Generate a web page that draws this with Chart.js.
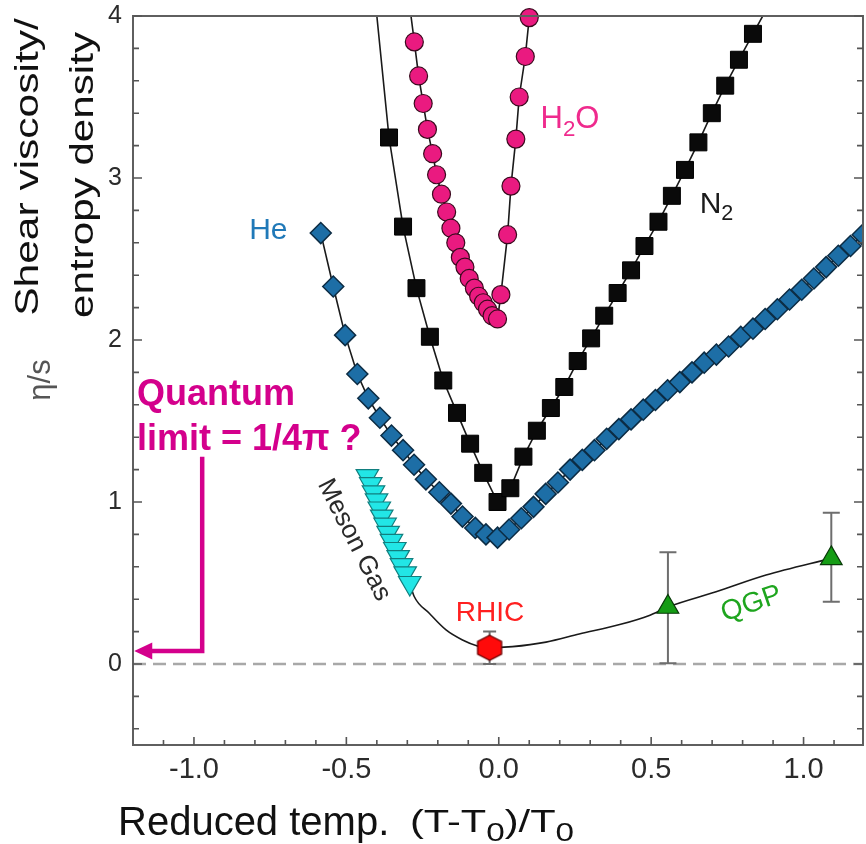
<!DOCTYPE html>
<html>
<head>
<meta charset="utf-8">
<script src="https://cdn.jsdelivr.net/npm/chart.js@4.4.0/dist/chart.umd.min.js"></script>
<style>
html,body{margin:0;padding:0;background:#ffffff;}
#wrap{width:866px;height:844px;position:relative;}
canvas{display:block;}
</style>
</head>
<body>
<div id="wrap"><canvas id="c" width="866" height="844"></canvas></div>
<script>
// ---------------- data ----------------
const h2oX = [-0.277,-0.263,-0.248,-0.234,-0.217,-0.204,-0.188,-0.171,-0.157,-0.141,-0.126,-0.111,-0.097,-0.080,-0.066,-0.051,-0.037,-0.022,-0.004,0.007,0.029,0.040,0.056,0.067,0.087,0.100];
const h2oY = [3.84,3.63,3.46,3.30,3.15,3.02,2.90,2.79,2.69,2.60,2.51,2.45,2.38,2.32,2.27,2.23,2.19,2.15,2.13,2.28,2.65,2.95,3.24,3.50,3.75,3.99];
const h2oLineStart = [-0.288, 4.0];

const n2X = [-0.360,-0.314,-0.270,-0.226,-0.182,-0.137,-0.094,-0.051,-0.004,0.038,0.081,0.125,0.171,0.215,0.259,0.303,0.346,0.390,0.434,0.478,0.524,0.568,0.611,0.655,0.699,0.743,0.788,0.834];
const n2Y = [3.25,2.70,2.32,2.02,1.75,1.55,1.36,1.18,1.00,1.085,1.28,1.44,1.58,1.71,1.87,2.01,2.15,2.29,2.43,2.58,2.73,2.89,3.05,3.22,3.40,3.57,3.73,3.89];
const n2LineStart = [-0.400, 4.0];
const n2LineEnd = [0.866, 4.0];

const heX = [-0.584,-0.543,-0.504,-0.464,-0.428,-0.390,-0.352,-0.314,-0.278,-0.239,-0.195,-0.157,-0.119,-0.077,-0.042,-0.004,
             0.034,0.074,0.114,0.154,0.194,0.234,0.274,0.314,0.354,0.394,0.434,0.474,0.514,0.554,0.594,0.634,0.674,0.714,0.754,0.794,0.834,0.874,0.914,0.954,0.994,1.034,1.074,1.114,1.154,1.194];
const heY = [2.66,2.33,2.03,1.79,1.64,1.52,1.41,1.32,1.23,1.14,1.06,0.99,0.91,0.84,0.80,0.78,
             0.83,0.90,0.97,1.05,1.12,1.20,1.26,1.32,1.39,1.45,1.51,1.57,1.63,1.69,1.74,1.80,1.86,1.91,1.96,2.02,2.07,2.13,2.19,2.25,2.31,2.38,2.45,2.52,2.58,2.65];

const mesonX = [-0.431,-0.420,-0.411,-0.401,-0.392,-0.384,-0.373,-0.363,-0.352,-0.341,-0.330,-0.319,-0.307,-0.292];
const mesonY = [1.16,1.11,1.06,1.01,0.96,0.91,0.86,0.81,0.76,0.71,0.66,0.61,0.56,0.50];

const curveX = [-0.292,-0.277,-0.228,-0.173,-0.119,-0.070,-0.034,0.045,0.155,0.264,0.400,0.494,0.555,0.713,0.877,1.091];
const curveY = [0.50,0.415,0.313,0.21,0.148,0.111,0.100,0.107,0.135,0.185,0.245,0.300,0.352,0.446,0.549,0.652];

const rhicX = [-0.030], rhicY = [0.10], rhicLo = [0.00], rhicHi = [0.20];
const qgpX = [0.555, 1.091], qgpY = [0.352, 0.652], qgpLo = [0.005, 0.385], qgpHi = [0.69, 0.934];

const quantumLimit = 1 / (4 * Math.PI);
const arrowX = -0.973, arrowTopY = 1.28, arrowTipX = -1.196;
const zeroLevel = 0;

const xTicks = [-1.1,-1.0,-0.9,-0.8,-0.7,-0.6,-0.5,-0.4,-0.3,-0.2,-0.1,0.0,0.1,0.2,0.3,0.4,0.5,0.6,0.7,0.8,0.9,1.0,1.1];
const xMajor = [-1.0,-0.5,0.0,0.5,1.0];
const yTicks = [-0.4,-0.2,0,0.2,0.4,0.6,0.8,1.0,1.2,1.4,1.6,1.8,2.0,2.2,2.4,2.6,2.8,3.0,3.2,3.4,3.6,3.8,4.0];
const yMajor = [0,1,2,3,4];

const xTitle = 'Reduced temp.';
const xTitleUnit = [{t:'(T-T'},{t:'0',sub:true},{t:')/T'},{t:'0',sub:true}];
const yTitle1 = 'Shear viscosity/';
const yTitle2 = 'entropy density';
const yTitleSym = 'η/s';
const labelHe = {parts:[{t:'He'}], x:-0.819, y:2.623};
const labelH2O = {parts:[{t:'H'},{t:'2',sub:true},{t:'O'}], x:0.137, y:3.309};
const labelN2 = {parts:[{t:'N'},{t:'2',sub:true}], x:0.659, y:2.784};
const labelRHIC = {parts:[{t:'RHIC'}], x:-0.141, y:0.267};
const labelQGP = {parts:[{t:'QGP'}], x:0.829, y:0.37};
const labelMeson = {parts:[{t:'Meson Gas'}], x:-0.475, y:0.765};
const labelQ1 = {parts:[{t:'Quantum'}], x:-1.187, y:1.599};
const labelQ2 = {parts:[{t:'limit = 1/4π ?'}], x:-1.187, y:1.321};

// ---------------- helpers ----------------
const FONT = "'Liberation Sans', Arial, Helvetica, sans-serif";
const pts = (xs, ys) => xs.map((v, i) => ({x: v, y: ys[i]}));
const r1 = v => Math.round(v * 10) / 10;

function drawRich(ctx, parts, x, y, o) {
  const size = o.size, subS = o.subScale || 0.72, shift = o.subShift || 0.25;
  ctx.save();
  ctx.translate(x, y);
  if (o.rot) ctx.rotate(o.rot * Math.PI / 180);
  if (o.sx) ctx.scale(o.sx, 1);
  ctx.fillStyle = o.color;
  ctx.textBaseline = o.baseline || 'alphabetic';
  ctx.textAlign = 'left';
  const fontFor = sub => `${o.weight || 'normal'} ${sub ? size * subS : size}px ${FONT}`;
  let total = 0;
  const widths = parts.map(p => { ctx.font = fontFor(p.sub); const w = ctx.measureText(p.t).width; total += w; return w; });
  let cx = o.align === 'center' ? -total / 2 : (o.align === 'right' ? -total : 0);
  parts.forEach((p, i) => { ctx.font = fontFor(p.sub); ctx.fillText(p.t, cx, p.sub ? size * shift : 0); cx += widths[i]; });
  ctx.restore();
}

function hexCanvas(w, h, fill, stroke) {
  const c = document.createElement('canvas');
  c.width = w + 4; c.height = h + 4;
  const g = c.getContext('2d');
  const cx = c.width / 2, cy = c.height / 2;
  g.beginPath();
  g.moveTo(cx, cy - h / 2);
  g.lineTo(cx + w / 2, cy - h / 4);
  g.lineTo(cx + w / 2, cy + h / 4);
  g.lineTo(cx, cy + h / 2);
  g.lineTo(cx - w / 2, cy + h / 4);
  g.lineTo(cx - w / 2, cy - h / 4);
  g.closePath();
  g.fillStyle = fill; g.fill();
  g.lineWidth = 1.3; g.strokeStyle = stroke; g.stroke();
  return c;
}
const hexImg = hexCanvas(24, 25, '#ff0a0a', '#6a0000');

// ---------------- plugin ----------------
const annot = {
  id: 'annot',
  beforeDatasetsDraw(chart) {
    const {ctx, chartArea: a, scales: {x, y}} = chart;
    ctx.save();
    ctx.beginPath(); ctx.rect(a.left, a.top, a.right - a.left, a.bottom - a.top); ctx.clip();
    const y0 = y.getPixelForValue(zeroLevel);
    ctx.strokeStyle = '#a8a8a8'; ctx.lineWidth = 2.5; ctx.setLineDash([13, 7]);
    ctx.beginPath(); ctx.moveTo(a.left, y0); ctx.lineTo(a.right, y0); ctx.stroke();
    ctx.setLineDash([]);
    const bars = (xs, lo, hi, cap) => {
      xs.forEach((v, i) => {
        const px = x.getPixelForValue(v), pl = y.getPixelForValue(lo[i]), ph = y.getPixelForValue(hi[i]);
        ctx.beginPath();
        ctx.moveTo(px, pl); ctx.lineTo(px, ph);
        ctx.moveTo(px - cap / 2, pl); ctx.lineTo(px + cap / 2, pl);
        ctx.moveTo(px - cap / 2, ph); ctx.lineTo(px + cap / 2, ph);
        ctx.stroke();
      });
    };
    ctx.strokeStyle = '#6e6e6e'; ctx.lineWidth = 2;
    bars(rhicX, rhicLo, rhicHi, 13);
    bars(qgpX, qgpLo, qgpHi, 17);
    ctx.restore();
  },
  afterDraw(chart) {
    const {ctx, chartArea: a, scales: {x, y}} = chart;
    ctx.save();
    ctx.strokeStyle = '#5f5f5f'; ctx.lineWidth = 2;
    ctx.strokeRect(a.left, a.top, a.right - a.left, a.bottom - a.top);
    ctx.strokeStyle = '#555'; ctx.lineWidth = 1.6;
    ctx.beginPath();
    x.ticks.forEach(t => {
      const px = x.getPixelForValue(t.value);
      const len = xMajor.includes(r1(t.value)) ? 8 : 5;
      ctx.moveTo(px, a.bottom); ctx.lineTo(px, a.bottom - len);
    });
    y.ticks.forEach(t => {
      const py = y.getPixelForValue(t.value);
      const len = yMajor.includes(r1(t.value)) ? 9 : 6;
      ctx.moveTo(a.left, py); ctx.lineTo(a.left + len, py);
      ctx.moveTo(a.right, py); ctx.lineTo(a.right - len, py);
    });
    ctx.stroke();

    const pink = '#d4008c';
    const ax = x.getPixelForValue(arrowX), ayTop = y.getPixelForValue(arrowTopY), ay = y.getPixelForValue(quantumLimit);
    const tip = x.getPixelForValue(arrowTipX);
    ctx.strokeStyle = pink; ctx.fillStyle = pink; ctx.lineWidth = 4.5; ctx.lineJoin = 'miter';
    ctx.beginPath(); ctx.moveTo(ax, ayTop); ctx.lineTo(ax, ay); ctx.lineTo(tip + 14, ay); ctx.stroke();
    ctx.beginPath(); ctx.moveTo(tip, ay); ctx.lineTo(tip + 18, ay - 8.5); ctx.lineTo(tip + 18, ay + 8.5); ctx.closePath(); ctx.fill();

    const P = (l) => [x.getPixelForValue(l.x), y.getPixelForValue(l.y)];
    let p;
    p = P(labelQ1); drawRich(ctx, labelQ1.parts, p[0], p[1], {size: 36, weight: 'bold', color: pink});
    p = P(labelQ2); drawRich(ctx, labelQ2.parts, p[0], p[1], {size: 36, weight: 'bold', color: pink});
    p = P(labelHe); drawRich(ctx, labelHe.parts, p[0], p[1], {size: 30, color: '#2079b8'});
    p = P(labelH2O); drawRich(ctx, labelH2O.parts, p[0], p[1], {size: 31, color: '#ef2a8d'});
    p = P(labelN2); drawRich(ctx, labelN2.parts, p[0], p[1], {size: 30, color: '#1a1a1a'});
    p = P(labelRHIC); drawRich(ctx, labelRHIC.parts, p[0], p[1], {size: 28, color: '#ff2020'});
    p = P(labelQGP); drawRich(ctx, labelQGP.parts, p[0], p[1], {size: 28, color: '#1ea51e', align: 'center', baseline: 'middle', rot: -19});
    p = P(labelMeson); drawRich(ctx, labelMeson.parts, p[0], p[1], {size: 26, color: '#2a2a2a', align: 'center', baseline: 'middle', rot: 63});

    drawRich(ctx, [{t: yTitle1}], 38, 167, {size: 34, color: '#111', align: 'center', rot: -90, sx: 1.25});
    drawRich(ctx, [{t: yTitle2}], 93, 175, {size: 34, color: '#111', align: 'center', rot: -90, sx: 1.24});
    drawRich(ctx, [{t: yTitleSym}], 50, 380, {size: 31, color: '#555', align: 'center', rot: -90});
    drawRich(ctx, [{t: xTitle}], 118, 835, {size: 40, color: '#111'});
    drawRich(ctx, xTitleUnit, 410, 832, {size: 32, color: '#111', sx: 1.3, subScale: 0.8, subShift: 0.28});
    ctx.restore();
  }
};

// ---------------- chart ----------------
const lineStyle = {showLine: true, pointRadius: 0, borderColor: '#1a1a1a', borderWidth: 1.6, order: 1, fill: false};
const zeroPad = s => { s.paddingTop = 0; s.paddingBottom = 0; s.paddingLeft = 0; s.paddingRight = 0; };

new Chart(document.getElementById('c'), {
  type: 'scatter',
  data: {
    datasets: [
      {label: 'RHIC', data: pts(rhicX, rhicY), pointStyle: hexImg, pointRadius: 12, order: 0},
      {label: 'QGP', data: pts(qgpX, qgpY), pointStyle: 'triangle', pointRadius: 12.5,
        pointBackgroundColor: '#159c15', pointBorderColor: '#083a08', pointBorderWidth: 1.2, order: 0},
      {label: 'Meson Gas', data: pts(mesonX, mesonY), pointStyle: 'triangle', pointRotation: 180, pointRadius: 13,
        pointBackgroundColor: '#22e6e6', pointBorderColor: '#117f7f', pointBorderWidth: 1.2, order: 0},
      {label: 'H2O', data: pts(h2oX, h2oY), pointStyle: 'circle', pointRadius: 9,
        pointBackgroundColor: '#ea1a80', pointBorderColor: '#3a0a1e', pointBorderWidth: 1.2, clip: false, order: 0},
      {label: 'N2', data: pts(n2X, n2Y), pointStyle: 'rect', pointRadius: 12,
        pointBackgroundColor: '#0a0a0a', pointBorderColor: '#000', pointBorderWidth: 1, order: 0},
      {label: 'He', data: pts(heX, heY), pointStyle: 'rectRot', pointRadius: 10.5,
        pointBackgroundColor: '#1d6ea6', pointBorderColor: '#0c2c44', pointBorderWidth: 1.5, order: 0},

      Object.assign({label: 'H2O line', data: [{x: h2oLineStart[0], y: h2oLineStart[1]}].concat(pts(h2oX, h2oY))}, lineStyle),
      Object.assign({label: 'N2 line', data: [{x: n2LineStart[0], y: n2LineStart[1]}].concat(pts(n2X, n2Y), [{x: n2LineEnd[0], y: n2LineEnd[1]}])}, lineStyle),
      Object.assign({label: 'He line', data: pts(heX, heY)}, lineStyle),
      Object.assign({label: 'Theory curve', data: pts(curveX, curveY), cubicInterpolationMode: 'monotone'}, lineStyle)
    ]
  },
  options: {
    responsive: false,
    animation: false,
    events: [],
    layout: {autoPadding: false, padding: {left: 0, top: 16, right: 3, bottom: 0}},
    plugins: {legend: {display: false}, tooltip: {enabled: false}},
    scales: {
      x: {
        type: 'linear', min: -1.2, max: 1.195,
        grid: {display: false, drawTicks: false},
        border: {display: false},
        afterBuildTicks(s) { s.ticks = xTicks.map(v => ({value: v})); },
        afterFit(s) { s.height = 99; zeroPad(s); },
        ticks: {autoSkip: false, maxRotation: 0, minRotation: 0, padding: 8, color: '#2b2b2b',
          font: {family: FONT, size: 29},
          callback: v => xMajor.includes(r1(v)) ? r1(v).toFixed(1) : ''}
      },
      y: {
        type: 'linear', min: -0.5, max: 4,
        grid: {display: false, drawTicks: false},
        border: {display: false},
        afterBuildTicks(s) { s.ticks = yTicks.map(v => ({value: v})); },
        afterFit(s) { s.width = 133; zeroPad(s); },
        ticks: {autoSkip: false, padding: 11, color: '#2b2b2b',
          font: {family: FONT, size: 25},
          callback: v => yMajor.includes(r1(v)) ? String(r1(v)) : ''}
      }
    }
  },
  plugins: [annot]
});
</script>
</body>
</html>
